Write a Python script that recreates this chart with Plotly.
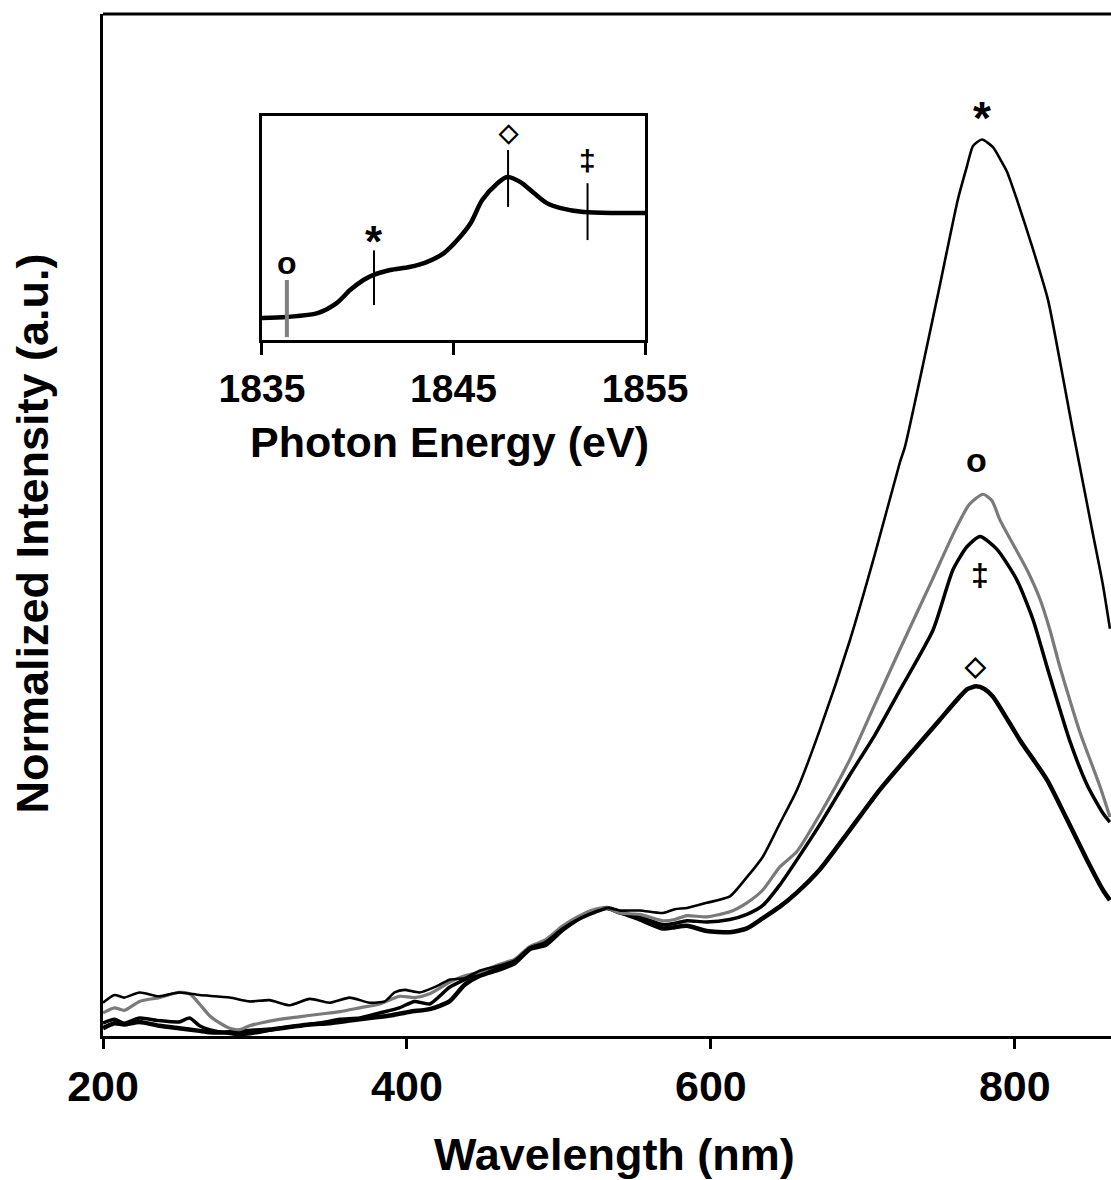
import plotly.graph_objects as go

# ---------------- main spectra (wavelength nm, normalized intensity a.u.) ----------------
star_x = [200, 207.6, 214, 224, 237, 250, 263.5, 283.3, 296.4, 309.6, 322.8, 336, 349, 362.3, 375.4,
          385.3, 391.9, 398.5, 408.4, 421.5, 428, 437.9, 447.8, 461, 470.9, 480.7, 490.6, 502.5, 513.7,
          523.6, 531.5, 540, 553.2, 568.4, 576.3, 584.2, 597.3, 612.5, 623.7, 634.2, 645.4, 656.6,
          671.7, 691.5, 707.9, 724.4, 727.7, 748.7, 762.5, 768.5, 772.5, 778.4, 785.6, 790.2, 794.8,
          801.4, 811, 821.8, 830, 838.3, 846, 851.4, 858, 862.6]
star_y = [0.26, 0.32, 0.30, 0.34, 0.31, 0.34, 0.32, 0.30, 0.27, 0.28, 0.24, 0.29, 0.26, 0.30, 0.26,
          0.27, 0.34, 0.36, 0.34, 0.40, 0.44, 0.45, 0.51, 0.55, 0.59, 0.69, 0.73, 0.84, 0.92,
          0.97, 1.00, 0.98, 0.98, 0.96, 0.99, 1.00, 1.04, 1.09, 1.24, 1.40, 1.66, 1.92,
          2.39, 3.09, 3.76, 4.48, 4.60, 5.75, 6.53, 6.79, 6.95, 7.00, 6.94, 6.85, 6.75,
          6.53, 6.18, 5.75, 5.25, 4.72, 4.25, 3.92, 3.52, 3.18]

circ_x = [200, 207.6, 214, 224, 237, 250, 257, 263.5, 270, 277, 283.3, 290, 296.4, 303, 316, 329, 342,
          356, 369, 382, 395, 405, 415, 428, 438, 448, 461, 471, 481, 491, 502.5, 513.7, 523.6, 531.5,
          540, 553.2, 568.4, 576.3, 584.2, 597.3, 612.5, 623.7, 634.2, 645.4, 656.6, 671.7, 691.5,
          707.9, 724.4, 745.6, 760.7, 770, 779.1, 785, 790.2, 808, 816.6, 823.1, 829.7, 836.3, 842.9,
          856, 862.6]
circ_y = [0.18, 0.22, 0.20, 0.27, 0.30, 0.34, 0.33, 0.25, 0.16, 0.10, 0.06, 0.05, 0.08, 0.10, 0.13,
          0.15, 0.17, 0.19, 0.22, 0.25, 0.31, 0.30, 0.33, 0.42, 0.47, 0.50, 0.56, 0.60, 0.70, 0.75,
          0.86, 0.94, 0.99, 1.00, 0.96, 0.95, 0.90, 0.91, 0.94, 0.93, 0.97, 1.04, 1.14, 1.32, 1.44,
          1.73, 2.16, 2.59, 3.02, 3.56, 3.95, 4.15, 4.23, 4.18, 4.03, 3.64, 3.41, 3.17, 2.88, 2.62,
          2.37, 1.95, 1.71]

dag_x = [200, 207.6, 214, 224, 237, 250, 257, 263.5, 270, 283.3, 290, 303, 316, 329, 342, 356, 369,
         382, 395, 405, 415, 428, 438, 448, 461, 471, 481, 491, 502.5, 513.7, 523.6, 531.5, 540, 553.2,
         568.4, 576.3, 584.2, 597.3, 612.5, 623.7, 634.2, 645.4, 656.6, 671.7, 691.5, 707.9, 724.4,
         746.2, 759.3, 768.5, 777.1, 788.3, 801.4, 812, 822, 836.3, 848, 858, 862.6]
dag_y = [0.10, 0.13, 0.10, 0.14, 0.12, 0.11, 0.14, 0.08, 0.05, 0.02, 0.01, 0.03, 0.06, 0.08, 0.10,
         0.13, 0.14, 0.18, 0.22, 0.27, 0.25, 0.38, 0.44, 0.49, 0.54, 0.58, 0.69, 0.72, 0.84, 0.93,
         0.98, 1.00, 0.96, 0.93, 0.87, 0.88, 0.90, 0.89, 0.91, 0.95, 1.02, 1.18, 1.375, 1.65, 2.04,
         2.35, 2.70, 3.17, 3.64, 3.82, 3.90, 3.80, 3.56, 3.25, 2.85, 2.30, 1.95, 1.74, 1.67]

dia_x = [200, 207.6, 214, 224, 237, 250, 263.5, 270, 283.3, 296.4, 309.6, 322.8, 336, 349, 362.3,
         375.4, 389, 402, 415, 428, 438, 448, 461, 471, 481, 491, 502.5, 513.7, 523.6, 531.5, 540,
         553.2, 568.4, 576.3, 584.2, 597.3, 612.5, 623.7, 634.2, 645.4, 656.6, 671.7, 691.5, 711,
         731, 750.7, 763.8, 769, 774.5, 780, 785.6, 803.4, 821.2, 834.4, 847.5, 858, 862.6]
dia_y = [0.06, 0.10, 0.09, 0.11, 0.08, 0.06, 0.04, 0.03, 0.03, 0.04, 0.05, 0.07, 0.09, 0.10, 0.12,
         0.14, 0.16, 0.19, 0.21, 0.27, 0.40, 0.47, 0.52, 0.57, 0.68, 0.71, 0.83, 0.92, 0.97, 1.00,
         0.97, 0.91, 0.84, 0.85, 0.86, 0.82, 0.81, 0.84, 0.92, 1.01, 1.12, 1.30, 1.61, 1.92, 2.20,
         2.47, 2.65, 2.71, 2.73, 2.71, 2.65, 2.31, 2.00, 1.69, 1.375, 1.14, 1.06]

peak_labels = ["*", "o", "\u2021", "\u25c7"]
peak_label_x = [778.4, 775.1, 777.1, 774.2]
peak_label_y = [7.25, 4.50, 3.60, 2.89]

main_ticks = [200, 400, 600, 800]

# ---------------- inset (photon energy eV) ----------------
xas_x = [1835.0, 1836.3, 1837.9, 1838.9, 1839.6, 1840.3, 1840.8, 1841.7, 1842.7, 1843.6, 1844.5,
         1845.2, 1845.9, 1846.5, 1847.3, 1847.8, 1848.5, 1849.2, 1849.9, 1850.6, 1851.8, 1853.5, 1855.0]
xas_y = [0.098, 0.103, 0.120, 0.165, 0.223, 0.268, 0.290, 0.3125, 0.326, 0.348, 0.388,
         0.446, 0.522, 0.625, 0.700, 0.728, 0.705, 0.656, 0.610, 0.589, 0.571, 0.567, 0.567]

inset_mark_x = [1836.3, 1840.85, 1847.85, 1852.0]
inset_mark_lo = [0.013, 0.156, 0.594, 0.446]
inset_mark_hi = [0.268, 0.400, 0.848, 0.700]
inset_mark_lab = ["o", "*", "\u25c7", "\u2021"]
inset_mark_lab_y = [0.344, 0.49, 0.93, 0.80]
inset_mark_col = ["#808080", "black", "black", "black"]
inset_ticks = [1835, 1845, 1855]

FONT = "Liberation Sans, Arial, Helvetica, sans-serif"
SYM_SIZE = {"*": 46, "o": 34, "\u2021": 32, "\u25c7": 27}
SYM_SHIFT = {"*": -11, "o": 0, "\u2021": 0, "\u25c7": 0}

fig = go.Figure()

fig.add_trace(go.Scatter(x=dia_x, y=dia_y, mode="lines", line=dict(color="black", width=4.5, shape="spline", smoothing=0.6)))
fig.add_trace(go.Scatter(x=dag_x, y=dag_y, mode="lines", line=dict(color="black", width=3.5, shape="spline", smoothing=0.6)))
fig.add_trace(go.Scatter(x=circ_x, y=circ_y, mode="lines", line=dict(color="#7a7a7a", width=3.2, shape="spline", smoothing=0.6)))
fig.add_trace(go.Scatter(x=star_x, y=star_y, mode="lines", line=dict(color="black", width=2.6, shape="spline", smoothing=0.6)))

# inset curve
fig.add_trace(go.Scatter(x=xas_x, y=xas_y, mode="lines", xaxis="x2", yaxis="y2",
                         line=dict(color="black", width=4.5, shape="spline", smoothing=0.8)))
for xv, lo, hi, col in zip(inset_mark_x, inset_mark_lo, inset_mark_hi, inset_mark_col):
    fig.add_trace(go.Scatter(x=[xv, xv], y=[lo, hi], mode="lines", xaxis="x2", yaxis="y2",
                             line=dict(color=col, width=4 if col != "black" else 2)))

annotations = []
for t, xv, yv in zip(peak_labels, peak_label_x, peak_label_y):
    annotations.append(dict(x=xv, y=yv, xref="x", yref="y", text="<b>%s</b>" % t, showarrow=False,
                            xanchor="center", yanchor="middle", yshift=SYM_SHIFT[t],
                            font=dict(family=FONT, size=SYM_SIZE[t], color="black")))
for t, xv, yv in zip(inset_mark_lab, inset_mark_x, inset_mark_lab_y):
    annotations.append(dict(x=xv, y=yv, xref="x2", yref="y2", text="<b>%s</b>" % t, showarrow=False,
                            xanchor="center", yanchor="middle", yshift=SYM_SHIFT[t],
                            font=dict(family=FONT, size=SYM_SIZE[t] - 2, color="black")))

annotations.append(dict(x=0.5074, y=-0.1155, xref="paper", yref="paper", text="<b>Wavelength (nm)</b>",
                        xanchor="center", yanchor="middle",
                        showarrow=False, font=dict(family=FONT, size=45, color="black")))
annotations.append(dict(x=-0.0704, y=0.4917, xref="paper", yref="paper", text="<b>Normalized Intensity (a.u.)</b>",
                        xanchor="center", yanchor="middle",
                        textangle=-90, showarrow=False, font=dict(family=FONT, size=45, color="black")))
annotations.append(dict(x=0.3442, y=0.5812, xref="paper", yref="paper", text="<b>Photon Energy (eV)</b>",
                        xanchor="center", yanchor="middle",
                        showarrow=False, font=dict(family=FONT, size=43, color="black")))

fig.update_layout(
    width=1111, height=1180, autosize=False,
    margin=dict(l=103, r=0, t=14, b=144, pad=0, autoexpand=False),
    paper_bgcolor="white", plot_bgcolor="white",
    showlegend=False,
    xaxis=dict(range=[200, 863.3], tickvals=main_ticks, ticks="outside", ticklen=10, tickwidth=2.5,
               tickcolor="black", showline=True, linewidth=3, linecolor="black", showgrid=False,
               zeroline=False, automargin=False,
               tickfont=dict(family=FONT, size=43, color="black", weight="bold")),
    yaxis=dict(range=[0, 7.98], showticklabels=False, ticks="", showline=True, linewidth=3,
               linecolor="black", showgrid=False, zeroline=False, automargin=False),
    xaxis2=dict(domain=[0.1577, 0.5377], anchor="y2", range=[1835, 1855], tickvals=inset_ticks,
                ticks="outside", ticklen=12, tickwidth=2.5, tickcolor="black", showline=True, linewidth=3,
                linecolor="black", mirror=True, showgrid=False, zeroline=False, automargin=False,
                tickfont=dict(family=FONT, size=39, color="black", weight="bold")),
    yaxis2=dict(domain=[0.681, 0.9002], anchor="x2", range=[0, 1], showticklabels=False, ticks="",
                showline=True, linewidth=3, linecolor="black", mirror=True, showgrid=False,
                zeroline=False, automargin=False),
    shapes=[dict(type="line", xref="paper", yref="paper", x0=0, x1=1, y0=1, y1=1,
                 line=dict(color="black", width=3))],
    annotations=annotations,
)

fig.write_html("out.html")
